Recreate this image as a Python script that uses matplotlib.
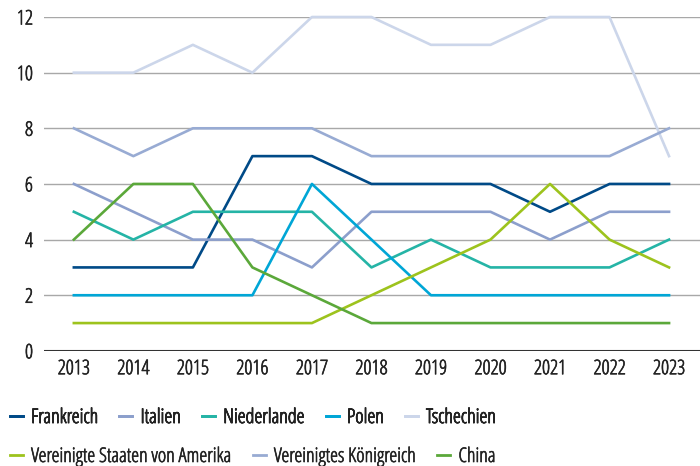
import matplotlib.pyplot as plt
import matplotlib.patheffects as pe
from matplotlib.lines import Line2D

YEARS = list(range(2013, 2024))

FRANKREICH = [3, 3, 3, 7, 7, 6, 6, 6, 5, 6, 6]
ITALIEN = [6, 5, 4, 4, 3, 5, 5, 5, 4, 5, 5]
NIEDERLANDE = [5, 4, 5, 5, 5, 3, 4, 3, 3, 3, 4]
POLEN = [2, 2, 2, 2, 6, 4, 2, 2, 2, 2, 2]
TSCHECHIEN = [10, 10, 11, 10, 12, 12, 11, 11, 12, 12, 7]
USA = [1, 1, 1, 1, 1, 2, 3, 4, 6, 4, 3]
UK = [8, 7, 8, 8, 8, 7, 7, 7, 7, 7, 8]
CHINA = [4, 6, 6, 3, 2, 1, 1, 1, 1, 1, 1]

Y_TICKS = [0, 2, 4, 6, 8, 10, 12]

ROW1 = [
    ("Frankreich", FRANKREICH, "#004a87"),
    ("Italien", ITALIEN, "#8c9fcc"),
    ("Niederlande", NIEDERLANDE, "#25b4a6"),
    ("Polen", POLEN, "#00a6d6"),
    ("Tschechien", TSCHECHIEN, "#ccd6ea"),
]
ROW2 = [
    ("Vereinigte Staaten von Amerika", USA, "#9dc31d"),
    ("Vereinigtes Königreich", UK, "#98abd3"),
    ("China", CHINA, "#5ba83a"),
]

# condensed Open Sans is the closest narrow face available
plt.rcParams["font.family"] = ["Open Sans", "DejaVu Sans"]
plt.rcParams["font.stretch"] = "condensed"

FS = 14.5
TEXT_COLOR = "#222222"
THICKEN = [pe.withStroke(linewidth=0.45, foreground=TEXT_COLOR)]

fig = plt.figure(figsize=(7, 4.66), dpi=100)
ax = fig.add_axes([0.063, 0.247, 0.937, 0.7165])

for name, values, color in ROW1 + ROW2:
    ax.plot(YEARS, values, color=color, linewidth=1.9, label=name, clip_on=False, zorder=3)

ax.set_xlim(2012.5, 2023.52)
ax.set_ylim(0, 12)
ax.set_xticks(YEARS)
ax.set_yticks(Y_TICKS)
ax.tick_params(axis="both", length=0, labelsize=FS, colors=TEXT_COLOR)
ax.tick_params(axis="x", pad=6)
ax.tick_params(axis="y", pad=8)
for label in ax.get_xticklabels() + ax.get_yticklabels():
    label.set_path_effects(THICKEN)
for y in Y_TICKS[1:]:
    ax.axhline(y, color="#a8a8a8", linewidth=1.0, zorder=1)
ax.axhline(0, color="#333333", linewidth=1.5, zorder=2)
for spine in ax.spines.values():
    spine.set_visible(False)


def make_legend(entries, y, spacing):
    handles = [Line2D([], [], color=c, linewidth=2) for _, _, c in entries]
    labels = [n for n, _, _ in entries]
    leg = fig.legend(
        handles, labels, loc="center left", bbox_to_anchor=(-0.003, y), ncol=len(entries),
        frameon=False, fontsize=FS, handlelength=0.65, handletextpad=0.4,
        columnspacing=spacing, borderaxespad=0.2,
    )
    for text in leg.get_texts():
        text.set_color(TEXT_COLOR)
        text.set_path_effects(THICKEN)
    return leg


leg1 = make_legend(ROW1, 1 - 418 / 466, 1.05)
fig.add_artist(leg1)
make_legend(ROW2, 1 - 457 / 466, 1.05)

fig.savefig("out.png", dpi=100)
